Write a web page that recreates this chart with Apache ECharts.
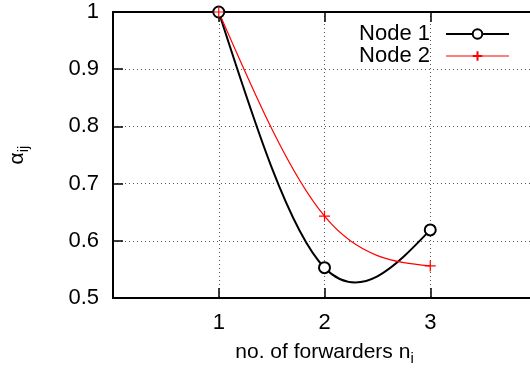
<!DOCTYPE html>
<html>
<head>
<meta charset="utf-8">
<script src="https://cdn.jsdelivr.net/npm/echarts@6/dist/echarts.min.js"></script>
<style>
  html, body { margin: 0; padding: 0; background: #fff; overflow: hidden; }
  #chart { width: 530px; height: 373px; }
</style>
</head>
<body>
<div id="chart"></div>
<script>
// Forwarder counts and the alpha_ij value measured for each node
const forwarders = [1, 2, 3];
const node1 = [1.0, 0.553, 0.619];
const node2 = [1.0, 0.643, 0.556];
const xTickLabels = [1, 2, 3];
const yTickLabels = [0.5, 0.6, 0.7, 0.8, 0.9, 1];

const FONT = 'Liberation Sans, Arial, sans-serif';

function pairs(xs, ys) {
  return xs.map((x, i) => [x, ys[i]]);
}

// Natural cubic spline through (xs, ys); returns the slope at every knot,
// so each piece can be drawn exactly as one cubic Bezier.
function splineSlopes(xs, ys) {
  const n = xs.length;
  const h = [];
  for (let i = 0; i < n - 1; i++) h.push(xs[i + 1] - xs[i]);
  const M = new Array(n).fill(0);
  if (n > 2) {
    const a = [], b = [], c = [], d = [];
    for (let i = 1; i < n - 1; i++) {
      a.push(h[i - 1]);
      b.push(2 * (h[i - 1] + h[i]));
      c.push(h[i]);
      d.push(6 * ((ys[i + 1] - ys[i]) / h[i] - (ys[i] - ys[i - 1]) / h[i - 1]));
    }
    const m = b.length;
    for (let i = 1; i < m; i++) {
      const w = a[i] / b[i - 1];
      b[i] -= w * c[i - 1];
      d[i] -= w * d[i - 1];
    }
    const sol = new Array(m);
    sol[m - 1] = d[m - 1] / b[m - 1];
    for (let i = m - 2; i >= 0; i--) sol[i] = (d[i] - c[i] * sol[i + 1]) / b[i];
    for (let i = 0; i < m; i++) M[i + 1] = sol[i];
  }
  const left = [], right = [];
  for (let i = 0; i < n - 1; i++) {
    const s = (ys[i + 1] - ys[i]) / h[i];
    left.push(s - h[i] * (2 * M[i] + M[i + 1]) / 6);
    right.push(s + h[i] * (M[i] + 2 * M[i + 1]) / 6);
  }
  return { h, left, right };
}

function splineSeries(name, xs, ys, color, width) {
  const sp = splineSlopes(xs, ys);
  return {
    name: name,
    type: 'custom',
    data: pairs(xs, ys),
    clip: false,
    silent: true,
    z: 2,
    renderItem: function (params, api) {
      const i = params.dataIndex;
      if (i >= xs.length - 1) return null;
      const h = sp.h[i];
      const p0 = api.coord([xs[i], ys[i]]);
      const p3 = api.coord([xs[i + 1], ys[i + 1]]);
      const c1 = api.coord([xs[i] + h / 3, ys[i] + sp.left[i] * h / 3]);
      const c2 = api.coord([xs[i + 1] - h / 3, ys[i + 1] - sp.right[i] * h / 3]);
      return {
        type: 'bezierCurve',
        shape: {
          x1: p0[0], y1: p0[1], x2: p3[0], y2: p3[1],
          cpx1: c1[0], cpy1: c1[1], cpx2: c2[0], cpy2: c2[1]
        },
        style: { stroke: color, lineWidth: width, fill: null }
      };
    }
  };
}

const chart = echarts.init(document.getElementById('chart'), null, { renderer: 'canvas' });

const plusPath = 'path://M0,5L10,5M5,0L5,10';

chart.setOption({
  animation: false,
  backgroundColor: '#fff',
  textStyle: { fontFamily: FONT, color: '#000' },
  grid: { left: 113, top: 12, width: 423, height: 286, containLabel: false, outerBoundsMode: 'none' },
  legend: {
    orient: 'vertical',
    align: 'right',
    right: 15,
    top: 18,
    itemWidth: 63,
    itemHeight: 12,
    itemGap: 0,
    textStyle: { fontFamily: FONT, fontSize: 22, lineHeight: 22, color: '#000', padding: [0, 11, 0, 0] },
    data: [
      { name: 'Node 1', lineStyle: { color: '#000', width: 2, opacity: 1 } },
      { name: 'Node 2', lineStyle: { color: '#ff0000', width: 1.2, opacity: 1 } }
    ]
  },
  xAxis: [
    {
      type: 'value',
      min: 0, max: 4, interval: 1,
      position: 'bottom',
      name: '{a|no. of forwarders n}{s|i}',
      nameLocation: 'middle',
      nameGap: 40,
      nameTextStyle: {
        rich: {
          a: { fontFamily: FONT, fontSize: 21, color: '#000' },
          s: { fontFamily: FONT, fontSize: 15, color: '#000', padding: [13, 0, 0, 0] }
        }
      },
      axisLine: { lineStyle: { color: '#000', width: 2 } },
      axisTick: { inside: true, length: 10, lineStyle: { color: '#000', width: 1.5 } },
      axisLabel: {
        fontFamily: FONT, fontSize: 22, color: '#000', margin: 14,
        formatter: v => (xTickLabels.indexOf(v) >= 0 ? String(v) : '')
      },
      splitLine: { show: true, lineStyle: { color: '#555', width: 1, type: [1, 3] } }
    },
    {
      type: 'value',
      min: 0, max: 4, interval: 1,
      position: 'top',
      axisLine: { lineStyle: { color: '#000', width: 2 } },
      axisTick: { inside: true, length: 10, lineStyle: { color: '#000', width: 1.5 } },
      axisLabel: { show: false },
      splitLine: { show: false }
    }
  ],
  yAxis: {
    type: 'value',
    min: 0.5, max: 1, interval: 0.1,
    name: '{a|α}{s|ij}',
    nameLocation: 'middle',
    nameRotate: 90,
    nameGap: 82,
    nameTextStyle: {
      rich: {
        a: { fontFamily: FONT, fontSize: 21, color: '#000' },
        s: { fontFamily: FONT, fontSize: 15, color: '#000', padding: [13, 0, 0, 0] }
      }
    },
    axisLine: { lineStyle: { color: '#000', width: 2 } },
    axisTick: { inside: true, length: 10, lineStyle: { color: '#000', width: 1.5 } },
    axisLabel: {
      fontFamily: FONT, fontSize: 22, color: '#000', margin: 14,
      formatter: v => {
        const r = Math.round(v * 10) / 10;
        return yTickLabels.indexOf(r) >= 0 ? String(r) : '';
      }
    },
    splitLine: { show: true, lineStyle: { color: '#555', width: 1, type: [1, 3] } }
  },
  series: [
    splineSeries('Node 1 curve', forwarders, node1, '#000', 2),
    splineSeries('Node 2 curve', forwarders, node2, '#ff0000', 1.2),
    {
      name: 'Node 1',
      type: 'line',
      data: pairs(forwarders, node1),
      clip: false,
      symbol: 'emptyCircle',
      symbolSize: 11,
      showAllSymbol: true,
      lineStyle: { color: '#000', width: 2, opacity: 0 },
      itemStyle: { color: '#000', borderColor: '#000', borderWidth: 1.5 },
      z: 3
    },
    {
      name: 'Node 2',
      type: 'line',
      data: pairs(forwarders, node2),
      clip: false,
      symbol: plusPath,
      symbolSize: 11,
      showAllSymbol: true,
      lineStyle: { color: '#ff0000', width: 1.2, opacity: 0 },
      itemStyle: { color: 'rgba(0,0,0,0)', borderColor: '#ff0000', borderWidth: 1.2 },
      z: 4
    }
  ]
});
</script>
</body>
</html>
